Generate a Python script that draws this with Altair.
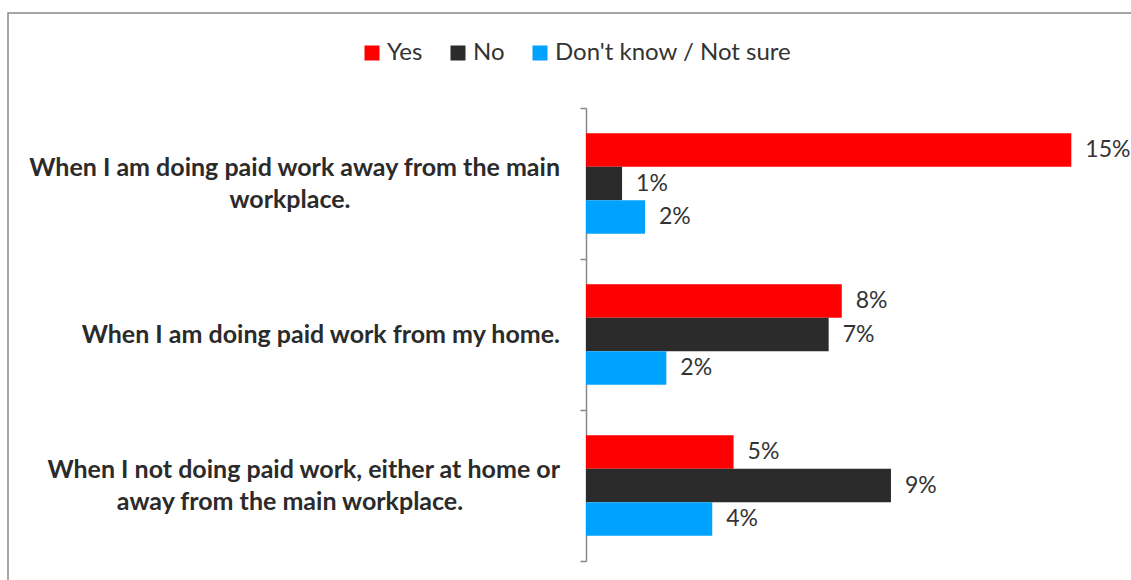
import altair as alt
import pandas as pd

categories = [
    "When I am doing paid work away from the main|workplace.",
    "When I am doing paid work from my home.",
    "When I not doing paid work, either at home or|away from the main workplace.",
]
series = ["Yes", "No", "Don't know / Not sure"]
yes_vals = [0.148, 0.078, 0.045]
no_vals = [0.011, 0.074, 0.093]
dk_vals = [0.018, 0.0245, 0.0385]
colors = ["#FF0000", "#2B2B2B", "#00A2FF"]

rows = []
for s, vals in zip(series, [yes_vals, no_vals, dk_vals]):
    for c, v in zip(categories, vals):
        rows.append({"category": c, "series": s, "value": v})
df = pd.DataFrame(rows)

label_rows = []
for c in categories:
    parts = c.split("|")
    for i, p in enumerate(parts):
        label_rows.append({"category": c, "line": p, "idx": i, "n": len(parts)})
label_df = pd.DataFrame(label_rows)

W, H = 545, 453
FONT = "Lato"
LBL = dict(font=FONT, fontSize=25, fontWeight="bold", color="#2B2B2B", baseline="middle")

y_enc = alt.Y(
    "category:N",
    sort=categories,
    scale=alt.Scale(paddingInner=0, paddingOuter=0),
    axis=alt.Axis(
        title=None,
        tickBand="extent",
        domainColor="#898989",
        domainWidth=1.5,
        tickColor="#898989",
        tickWidth=1.5,
        tickSize=6,
        labels=False,
    ),
)
x_enc = alt.X("value:Q", scale=alt.Scale(domain=[0, 0.1662], nice=False), axis=None)
yoff = alt.YOffset(
    "series:N", sort=series, scale=alt.Scale(paddingOuter=0.75, paddingInner=0)
)

base = alt.Chart(df)

bars = base.mark_bar().encode(
    y=y_enc,
    x=x_enc,
    yOffset=yoff,
    color=alt.Color(
        "series:N",
        sort=series,
        scale=alt.Scale(domain=series, range=colors),
        legend=alt.Legend(
            title=None,
            orient="none",
            direction="horizontal",
            legendX=-226,
            legendY=-67,
            symbolType="square",
            symbolSize=225,
            symbolStrokeWidth=0,
            labelFont=FONT,
            labelFontSize=24,
            labelColor="#333333",
            labelOffset=3,
            labelLimit=0,
            columnPadding=23,
            padding=0,
        ),
    ),
)

values = base.mark_text(
    align="left", baseline="middle", dx=14, font=FONT, fontSize=23, color="#333333"
).encode(
    y=alt.Y("category:N", sort=categories),
    x="value:Q",
    yOffset=alt.YOffset("series:N", sort=series),
    text=alt.Text("value:Q", format=".0%"),
)

lab_base = alt.Chart(label_df)
lab_single = lab_base.transform_filter("datum.n == 1").mark_text(
    align="right", **LBL
).encode(y=alt.Y("category:N", sort=categories), x=alt.value(-26), text="line:N")
lab_first = lab_base.transform_filter("datum.n == 2 && datum.idx == 0").mark_text(
    align="right", dy=-16, **LBL
).encode(y=alt.Y("category:N", sort=categories), x=alt.value(-26), text="line:N")
lab_second = lab_base.transform_filter("datum.n == 2 && datum.idx == 1").mark_text(
    align="center", dy=16, **LBL
).encode(y=alt.Y("category:N", sort=categories), x=alt.value(-296), text="line:N")

frame = alt.Chart(pd.DataFrame({"a": [0]})).mark_rect(
    fill=None, stroke="#898989", strokeWidth=1.5
).encode(
    x=alt.value(-578),
    x2=alt.value(W + 30),
    y=alt.value(-95),
    y2=alt.value(H + 40),
)

chart = (
    alt.layer(frame, bars, values, lab_single, lab_first, lab_second)
    .properties(
        width=W,
        height=H,
        autosize=alt.AutoSizeParams(type="none"),
        padding={"left": 586, "top": 108, "right": 0, "bottom": 19},
        background="white",
    )
    .configure_view(stroke=None)
)

chart.save("out.html", embed_options={"renderer": "svg", "actions": False})
